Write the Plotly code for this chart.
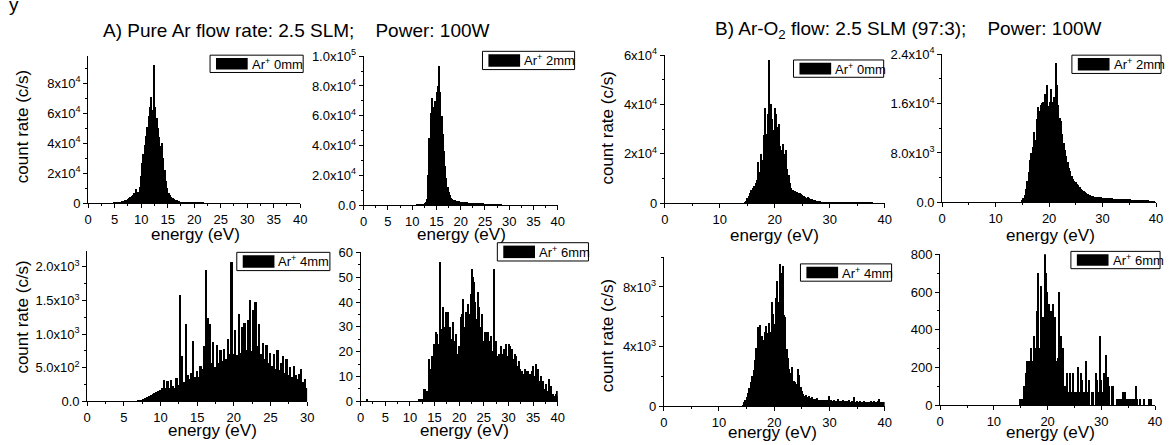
import plotly.graph_objects as go

W, H = 1173, 445
BIN = 0.25

# ---------------- data (count rate, c/s), bins of 0.25 eV ----------------
A0_start = 5.0
A0_counts = [200, 300, 400, 500, 700, 900, 1200, 1500, 1800, 2200, 2700, 3200, 3800, 4500, 5500, 7000,
             9700, 6500, 7500, 11000, 18000, 27000, 33000, 39000, 45000, 51000, 58000, 64000, 71000, 62000,
             92000, 64000, 57000, 50000, 44000, 38000, 40000, 30000, 22000, 15000, 10000, 7000, 5500, 4200,
             3400, 2800, 2300, 1900, 1600, 1300, 1100, 900, 750, 650, 550, 450, 400, 350, 300, 260, 220,
             200, 180, 170, 150, 140, 120, 110, 100, 90, 80]

A2_start = 11.0
A2_counts = [300, 400, 500, 600, 700, 900, 1200, 1800, 4000, 20000, 45000, 62000, 72000, 66000, 58000,
             70000, 76000, 80000, 93000, 76000, 60000, 48000, 36000, 26000, 18000, 12000, 8500, 6500, 5000,
             4200, 3600, 3200, 2900, 2700, 2500, 2300, 2200, 2100, 2000, 1900, 1800, 1750, 1700, 1650, 1600,
             1550, 1500, 1450, 1400, 1350, 1300, 1250, 1200, 1150, 1100, 1050, 1000, 950, 900, 850, 800, 750,
             700, 650, 600, 550, 500, 450, 400, 300]

A4_start = 7.0
A4_counts = [10, 15, 20, 30, 40, 55, 70, 85, 100, 115, 130, 150, 170, 200, 310, 190, 300, 200, 320, 230,
             200, 340, 240, 1580, 670, 280, 1150, 380, 330, 420, 890, 360, 450, 350, 520, 480, 820, 1950,
             1240, 1140, 560, 880, 500, 840, 560, 760, 600, 780, 620, 920, 700, 2060, 700, 1050, 680, 1300,
             720, 1100, 1160, 760, 1200, 1500, 750, 1360, 1470, 820, 1140, 700, 860, 620, 830, 560, 720,
             520, 700, 480, 760, 460, 560, 670, 420, 620, 380, 500, 350, 520, 380, 330, 400, 476, 280, 330,
             200]

A6_start = 11.75
A6_counts = [1, 1, 1, 1, 5, 5, 4, 4, 17, 13, 13, 18, 23, 20, 28, 27, 23, 56, 29, 27, 38, 30, 36, 22, 36,
             30, 25, 20, 32, 24, 27, 18, 19, 22, 34, 35, 41, 30, 36, 25, 39, 35, 43, 53, 50, 48, 40, 33, 44,
             38, 30, 35, 23, 24, 28, 28, 28, 24, 21, 26, 20, 53, 20, 24, 18, 19, 16, 22, 19, 21, 15, 23, 18,
             23, 22, 20, 21, 17, 19, 18, 14, 16, 13, 10, 12, 11, 13, 12, 9, 12, 11, 8, 12, 14, 10, 15, 11, 13,
             8, 10, 6, 8, 5, 7, 3, 4, 9, 6, 3, 3, 2, 3, 4, 2]
A6_low_energy = [1.25]
A6_low_counts = [1]

B0_start = 14.5
B0_counts = [300, 800, 2000, 3000, 4000, 5200, 6200, 7000, 8000, 9500, 16500, 12500, 20000, 17500, 27500,
             38600, 28000, 36000, 58000, 40000, 34000, 29500, 38400, 36000, 31000, 32000, 23000, 21700,
             24000, 20000, 21700, 14000, 11300, 8000, 6100, 5500, 5000, 4800, 4500, 4200, 4000, 3600, 3300,
             3000, 2400, 2200, 2300, 2000, 1700, 1500, 1300, 1200, 1000, 900, 800, 700, 650, 550, 500, 450,
             420, 400, 380, 350, 330, 300, 300, 280, 320, 260, 250, 280, 240, 230, 300, 220, 210, 200, 250,
             190, 180, 200, 170, 160, 180, 150, 140, 160, 130, 120, 110, 120, 100, 100]

B2_start = 15.0
B2_counts = [300, 630, 1200, 2200, 3500, 4800, 6900, 8000, 9000, 11400, 10000, 13400, 15400, 14800, 15800,
             16000, 16300, 17600, 16000, 18900, 15500, 16200, 18400, 16300, 17000, 22600, 18900, 15800,
             13700, 13200, 11000, 9500, 8500, 7400, 6500, 5600, 5000, 4300, 3800, 3500, 3200, 3000, 2700,
             2500, 2200, 2000, 1800, 1600, 1400, 1300, 1200, 1100, 1000, 950, 900, 880, 850, 800, 780, 750,
             720, 700, 680, 650, 640, 630, 620, 600, 580, 570, 560, 540, 530, 520, 510, 500, 500, 480, 470,
             460, 450, 440, 420, 410, 400, 390, 370, 360, 350, 340, 320, 310, 300, 290, 270, 260, 240, 230,
             210, 200]

B4_start = 14.25
B4_counts = [100, 250, 400, 600, 900, 1200, 1600, 2000, 2400, 3100, 3900, 5300, 4200, 5450, 4700, 4400,
             5000, 5350, 4900, 5550, 5000, 6950, 6200, 5500, 7250, 8400, 7000, 9500, 8950, 9400, 6100, 6000,
             3800, 3200, 2500, 2200, 2600, 1700, 1600, 1500, 2500, 2100, 1300, 1000, 800, 700, 750, 600, 650,
             550, 600, 480, 500, 450, 520, 400, 420, 380, 400, 360, 380, 400, 350, 700, 380, 350, 400, 330,
             360, 450, 320, 340, 300, 380, 320, 300, 350, 420, 300, 310, 280, 600, 300, 320, 280, 350, 300,
             280, 330, 290, 270, 300, 280, 350, 260, 330, 300, 280, 320, 450, 300, 250, 300, 280]

B6_start = 15.0
B6_counts = [33, 33, 33, 100, 167, 233, 233, 167, 300, 233, 367, 300, 500, 700, 300, 633, 433, 467, 800,
             700, 600, 533, 300, 500, 533, 300, 467, 233, 250, 600, 367, 167, 300, 100, 67, 167, 67, 167, 67,
             167, 67, 67, 67, 200, 67, 167, 133, 67, 67, 233, 67, 133, 0, 67, 67, 0, 167, 133, 67, 367, 133,
             67, 167, 100, 267, 150, 100, 0, 100, 100, 0, 0, 33, 33, 0, 33, 67, 0, 67, 33, 0, 33, 33, 0, 33,
             33, 100, 33, 0, 33, 0, 0, 33, 0, 0, 0, 33, 33, 0, 0]

# tick labels
A0_yticks = [0, 20000, 40000, 60000, 80000]
A0_ytext = ["0", "2x10<sup>4</sup>", "4x10<sup>4</sup>", "6x10<sup>4</sup>", "8x10<sup>4</sup>"]
A2_yticks = [0, 20000, 40000, 60000, 80000, 100000]
A2_ytext = ["0.0", "2.0x10<sup>4</sup>", "4.0x10<sup>4</sup>", "6.0x10<sup>4</sup>", "8.0x10<sup>4</sup>",
            "1.0x10<sup>5</sup>"]
A4_yticks = [0, 500, 1000, 1500, 2000]
A4_ytext = ["0.0", "5.0x10<sup>2</sup>", "1.0x10<sup>3</sup>", "1.5x10<sup>3</sup>", "2.0x10<sup>3</sup>"]
A6_yticks = [0, 10, 20, 30, 40, 50, 60]
A6_ytext = ["0", "10", "20", "30", "40", "50", "60"]
B0_yticks = [0, 20000, 40000, 60000]
B0_ytext = ["0", "2x10<sup>4</sup>", "4x10<sup>4</sup>", "6x10<sup>4</sup>"]
B2_yticks = [0, 8000, 16000, 24000]
B2_ytext = ["0.0", "8.0x10<sup>3</sup>", "1.6x10<sup>4</sup>", "2.4x10<sup>4</sup>"]
B4_yticks = [0, 4000, 8000]
B4_ytext = ["0", "4x10<sup>3</sup>", "8x10<sup>3</sup>"]
B6_yticks = [0, 200, 400, 600, 800]
B6_ytext = ["0", "200", "400", "600", "800"]

xticks_5 = [0, 5, 10, 15, 20, 25, 30, 35, 40]
xticks_5_30 = [0, 5, 10, 15, 20, 25, 30]
xticks_10 = [0, 10, 20, 30, 40]

legend_labels = ["Ar<sup>+</sup> 0mm", "Ar<sup>+</sup> 2mm", "Ar<sup>+</sup> 4mm", "Ar<sup>+</sup> 6mm",
                 "Ar<sup>+</sup> 0mm", "Ar<sup>+</sup> 2mm", "Ar<sup>+</sup> 4mm", "Ar<sup>+</sup> 6mm"]

title_A = "A) Pure Ar flow rate: 2.5 SLM;\u00a0\u00a0\u00a0 Power: 100W"
title_B = "B) Ar-O<sub>2</sub> flow: 2.5 SLM (97:3);\u00a0\u00a0\u00a0 Power: 100W"


def energies(start, counts):
    return [start + BIN * i for i in range(len(counts))]


series = [
    (energies(A0_start, A0_counts), A0_counts),
    (energies(A2_start, A2_counts), A2_counts),
    (energies(A4_start, A4_counts), A4_counts),
    (A6_low_energy + energies(A6_start, A6_counts), A6_low_counts + A6_counts),
    (energies(B0_start, B0_counts), B0_counts),
    (energies(B2_start, B2_counts), B2_counts),
    (energies(B4_start, B4_counts), B4_counts),
    (energies(B6_start, B6_counts), B6_counts),
]

# ---------------- layout geometry (pixels) ----------------
# x0, x1, ytop, ybot, xrange, xticks, xminor, yrange, yticks, ytext, yminor
panels = [
    (85, 299, 49, 202, [0, 40], xticks_5, 2.5, [0, 98000], A0_yticks, A0_ytext, 10000),
    (363, 559, 49, 204, [0, 40], xticks_5, 2.5, [0, 100000], A2_yticks, A2_ytext, 10000),
    (84, 306, 252, 408, [0, 30], xticks_5_30, 2.5, [0, 2230], A4_yticks, A4_ytext, 250),
    (360, 559, 253, 408, [0, 40], xticks_5, 2.5, [0, 60], A6_yticks, A6_ytext, 5),
    (667, 889, 48, 202, [0, 40], xticks_10, 5, [0, 60000], B0_yticks, B0_ytext, 10000),
    (947, 1163, 47, 201, [0, 40], xticks_10, 5, [0, 24000], B2_yticks, B2_ytext, 4000),
    (666, 889, 258, 413, [0, 40], xticks_10, 5, [0, 10000], B4_yticks, B4_ytext, 2000),
    (945, 1162, 255, 412, [0, 40], xticks_10, 5, [0, 800], B6_yticks, B6_ytext, 100),
]

# legend boxes: x0, x1, y0, y1
legend_boxes = [
    (208, 302, 48, 66), (483, 576, 44, 63), (235, 329, 253, 272), (498, 590, 243, 262),
    (797, 888, 53, 71), (1078, 1168, 48, 67), (804, 896, 265, 283), (1077, 1167, 252, 270),
]

# axis-title centres (pixels)
xtitle_pos = [(193, 234), (462, 234), (210, 438), (465, 438),
              (778, 235), (1056, 235), (776, 440), (1056, 440)]
ytitle_pos = [(19, 122), (19, 320), (609, 124), (609, 340)]

FONT = "Liberation Sans, Arial, sans-serif"


def fx(p):
    return p / W


def fy(p):
    return 1 - p / H


fig = go.Figure()
layout = dict(
    width=W, height=H, margin=dict(l=0, r=0, t=0, b=0),
    paper_bgcolor="white", plot_bgcolor="white", showlegend=False,
    bargap=0, font=dict(family=FONT, color="black", size=13),
)
shapes = []
annotations = []

for i, ((xs, ys), p) in enumerate(zip(series, panels)):
    x0, x1, yt, yb, xr, xt, xmin, yr, ytv, ytt, ymin = p
    n = "" if i == 0 else str(i + 1)
    fig.add_trace(go.Bar(x=xs, y=ys, width=BIN, xaxis="x" + n, yaxis="y" + n,
                         marker=dict(color="black", line=dict(width=0)), name=legend_labels[i]))
    layout["xaxis" + n] = dict(
        domain=[fx(x0), fx(x1)], range=xr, anchor="y" + n, showline=True, linecolor="black",
        linewidth=1, ticks="outside", ticklen=4, tickwidth=1, tickcolor="black",
        tickvals=xt, ticktext=[str(v) for v in xt], showgrid=False, zeroline=False,
        tickfont=dict(family=FONT, size=13, color="black"),
        minor=dict(dtick=xmin, tick0=0, ticks="outside", ticklen=2, tickcolor="black", showgrid=False),
    )
    layout["yaxis" + n] = dict(
        domain=[fy(yb), fy(yt)], range=yr, anchor="x" + n, showline=True, linecolor="black",
        linewidth=1, ticks="outside", ticklen=4, tickwidth=1, tickcolor="black",
        tickvals=ytv, ticktext=ytt, showgrid=False, zeroline=False,
        tickfont=dict(family=FONT, size=13, color="black"),
        minor=dict(dtick=ymin, tick0=0, ticks="outside", ticklen=2, tickcolor="black", showgrid=False),
    )
    # legend box
    bx0, bx1, by0, by1 = legend_boxes[i]
    shapes.append(dict(type="rect", xref="paper", yref="paper", x0=fx(bx0), x1=fx(bx1),
                       y0=fy(by1), y1=fy(by0), line=dict(color="black", width=1), fillcolor="white"))
    shapes.append(dict(type="rect", xref="paper", yref="paper", x0=fx(bx0 + 6), x1=fx(bx0 + 38),
                       y0=fy(by1 - 3), y1=fy(by0 + 3), line=dict(width=0), fillcolor="black"))
    annotations.append(dict(xref="paper", yref="paper", x=fx(bx0 + 40), y=fy((by0 + by1) / 2),
                            xanchor="left", yanchor="middle", showarrow=False, text=legend_labels[i],
                            font=dict(family=FONT, size=13, color="black")))
    # x title
    tx, ty = xtitle_pos[i]
    annotations.append(dict(xref="paper", yref="paper", x=fx(tx), y=fy(ty), xanchor="center",
                            yanchor="middle", showarrow=False, text="energy (eV)",
                            font=dict(family=FONT, size=17, color="black")))

for tx, ty in ytitle_pos:
    annotations.append(dict(xref="paper", yref="paper", x=fx(tx), y=fy(ty), xanchor="center",
                            yanchor="middle", showarrow=False, text="count rate (c/s)", textangle=-90,
                            font=dict(family=FONT, size=17, color="black")))

annotations.append(dict(xref="paper", yref="paper", x=fx(98), y=fy(22), xanchor="left", yanchor="middle",
                        showarrow=False, text=title_A, font=dict(family=FONT, size=19, color="black")))
annotations.append(dict(xref="paper", yref="paper", x=fx(716), y=fy(22), xanchor="left", yanchor="middle",
                        showarrow=False, text=title_B, font=dict(family=FONT, size=19, color="black")))
# partially visible glyph cut by the top edge of the picture
annotations.append(dict(xref="paper", yref="paper", x=fx(3), y=fy(-5), xanchor="left", yanchor="middle",
                        showarrow=False, text="y", font=dict(family=FONT, size=19, color="black")))

layout["shapes"] = shapes
layout["annotations"] = annotations
fig.update_layout(**layout)
fig.write_html("out.html", config={"displayModeBar": False},
               post_script="document.body.style.margin='0';document.body.style.overflow='hidden';")
